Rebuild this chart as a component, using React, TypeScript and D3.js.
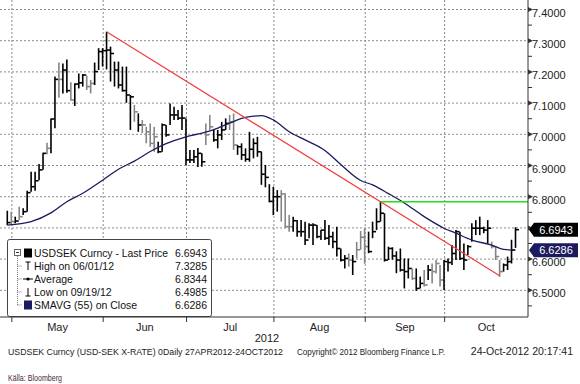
import React from 'react';
import * as d3 from 'd3';

// daily bars 27 Apr 2012 - 24 Oct 2012 (high / low / close)
const highs = [
  6.755, 6.752, 6.736, 6.768, 6.763, 6.819, 6.880, 6.880, 6.905, 6.941,
  6.973, 7.051, 7.185, 7.230, 7.227, 7.240, 7.167, 7.163, 7.195, 7.193,
  7.188, 7.174, 7.230, 7.276, 7.276, 7.3285, 7.281, 7.233, 7.233, 7.217,
  7.217, 7.126, 7.094, 7.067, 7.046, 7.024, 7.035, 7.024, 6.976, 7.035,
  7.030, 7.099, 7.088, 7.078, 7.094, 7.051, 6.950, 6.950, 6.956, 6.939,
  7.035, 7.062, 7.014, 7.014, 7.040, 7.051, 7.062, 7.067, 6.966, 6.971,
  6.955, 7.008, 6.987, 6.992, 6.945, 6.902, 6.840, 6.832, 6.821, 6.821,
  6.811, 6.741, 6.736, 6.725, 6.725, 6.720, 6.715, 6.715, 6.709, 6.693,
  6.725, 6.709, 6.688, 6.704, 6.634, 6.613, 6.618, 6.613, 6.655, 6.690,
  6.699, 6.688, 6.720, 6.763, 6.784, 6.747, 6.640, 6.638, 6.625, 6.634,
  6.602, 6.602, 6.570, 6.570, 6.544, 6.565, 6.581, 6.586, 6.597, 6.581,
  6.597, 6.602, 6.645, 6.693, 6.688, 6.650, 6.645, 6.715, 6.725, 6.736,
  6.704, 6.725, 6.656, 6.640, 6.597, 6.586, 6.608, 6.662, 6.702,
];
const lows = [
  6.709, 6.712, 6.715, 6.725, 6.741, 6.752, 6.816, 6.819, 6.853, 6.886,
  6.936, 6.939, 7.019, 7.117, 7.131, 7.133, 7.108, 7.091, 7.147, 7.153,
  7.142, 7.131, 7.158, 7.206, 7.217, 7.208, 7.169, 7.153, 7.147, 7.137,
  7.101, 7.014, 7.040, 7.008, 7.004, 6.971, 6.960, 6.944, 6.939, 6.944,
  6.992, 7.030, 7.046, 7.046, 7.014, 6.902, 6.908, 6.908, 6.895, 6.896,
  6.966, 7.014, 6.976, 6.955, 6.982, 7.014, 7.014, 6.950, 6.934, 6.918,
  6.912, 6.912, 6.923, 6.928, 6.838, 6.830, 6.782, 6.741, 6.752, 6.720,
  6.699, 6.688, 6.688, 6.672, 6.672, 6.645, 6.667, 6.645, 6.667, 6.661,
  6.661, 6.645, 6.635, 6.608, 6.592, 6.570, 6.576, 6.549, 6.603, 6.630,
  6.585, 6.619, 6.667, 6.693, 6.720, 6.592, 6.597, 6.598, 6.555, 6.560,
  6.506, 6.538, 6.533, 6.4985, 6.506, 6.512, 6.533, 6.522, 6.554, 6.512,
  6.501, 6.560, 6.581, 6.597, 6.597, 6.565, 6.613, 6.656, 6.677, 6.677,
  6.683, 6.650, 6.634, 6.597, 6.543, 6.560, 6.565, 6.586, 6.636,
];
const closes = [
  6.717, 6.720, 6.722, 6.736, 6.752, 6.813, 6.832, 6.851, 6.886, 6.939,
  6.955, 7.049, 7.176, 7.176, 7.206, 7.140, 7.110, 7.161, 7.165, 7.190,
  7.153, 7.163, 7.201, 7.265, 7.268, 7.270, 7.259, 7.206, 7.158, 7.140,
  7.126, 7.120, 7.072, 7.030, 7.030, 7.008, 6.971, 6.992, 6.944, 7.030,
  6.998, 7.062, 7.062, 7.052, 7.052, 6.918, 6.918, 6.928, 6.939, 6.912,
  6.998, 7.024, 6.982, 6.998, 7.014, 7.035, 7.040, 6.966, 6.960, 6.934,
  6.920, 6.952, 6.971, 6.944, 6.872, 6.862, 6.785, 6.800, 6.800, 6.809,
  6.704, 6.704, 6.723, 6.688, 6.688, 6.661, 6.709, 6.709, 6.672, 6.693,
  6.667, 6.672, 6.656, 6.634, 6.597, 6.602, 6.597, 6.592, 6.630, 6.670,
  6.640, 6.624, 6.688, 6.720, 6.747, 6.597, 6.634, 6.610, 6.597, 6.565,
  6.560, 6.570, 6.538, 6.506, 6.522, 6.517, 6.565, 6.560, 6.586, 6.533,
  6.592, 6.589, 6.618, 6.688, 6.602, 6.597, 6.640, 6.699, 6.699, 6.699,
  6.693, 6.699, 6.640, 6.608, 6.560, 6.581, 6.592, 6.629, 6.6943,
];
// bars drawn grey in the original
const greyBars = [1, 3, 10, 13, 16, 20, 21, 32, 34, 35, 36, 37, 50, 51, 56, 57, 69, 70, 71, 86, 88, 89, 90, 102, 105, 107, 108, 109, 122, 123, 124];

// 55 day moving average, read at a few bars
const smaIdx = [0, 6, 11, 15, 19, 24, 28, 32, 36, 40, 45, 49, 52, 56, 59, 62, 64, 67, 71, 75, 80, 84, 89, 92, 96, 100, 105, 110, 113, 117, 122, 125, 128];
const smaVal = [6.709, 6.720, 6.748, 6.784, 6.811, 6.853, 6.888, 6.914, 6.945, 6.970, 6.992, 7.004, 7.015, 7.036, 7.051, 7.058, 7.060, 7.046, 7.008, 6.982, 6.948, 6.903, 6.852, 6.838, 6.810, 6.780, 6.736, 6.699, 6.683, 6.661, 6.645, 6.631, 6.6286];

const trendIdx = [25, 124];
const trendVal = [7.3285, 6.547];
const resistIdx = 94;
const resistVal = 6.784;

const monthNames = ['May', 'Jun', 'Jul', 'Aug', 'Sep', 'Oct'];
const monthStartIdx = [2, 25, 46, 68, 91, 111];
const yTicks = [7.4, 7.3, 7.2, 7.1, 7.0, 6.9, 6.8, 6.7, 6.6, 6.5];

const legendLabels = ['USDSEK Curncy - Last Price', 'High on 06/01/12', 'Average', 'Low on 09/19/12', 'SMAVG (55) on Close'];
const legendValues = ['6.6943', '7.3285', '6.8344', '6.4985', '6.6286'];
const lastPrice = 6.6943;
const lastSma = 6.6286;

const FONT = 'Liberation Sans, Arial, sans-serif';
const NAVY = '#1b1b5e';

const App = () => {
  const plotRight = 528;
  const plotBottom = 317;
  const x = d3.scaleLinear().domain([0, 128]).range([7.3, 515.5]);
  const y = d3.scaleLinear().domain([6.5, 7.4]).range([290.3, 9.5]);

  const gridX = monthStartIdx.map((i) => x(i - 0.85));
  const labelX = gridX.map((g, k) => (g + (k < gridX.length - 1 ? gridX[k + 1] : plotRight)) / 2);

  const smaLine = d3
    .line<number>()
    .x((d, k) => x(smaIdx[k]))
    .y((d) => y(d))
    .curve(d3.curveMonotoneX);

  const minorTicks = d3.range(6.45, 7.4, 0.1);
  // the last price box hides the tick label it sits on
  const shownTicks = yTicks.filter((t) => Math.abs(y(t) - y(lastPrice)) > 8);

  const marker = (v: number, fill: string, label: string) => {
    const yy = y(v);
    return (
      <g>
        <polygon
          points={`529,${yy} 534,${yy - 7} 578,${yy - 7} 578,${yy + 7} 534,${yy + 7}`}
          fill={fill}
        />
        <text x={556} y={yy + 4} fill="#fff" fontSize={11} textAnchor="middle" fontFamily={FONT}>
          {label}
        </text>
      </g>
    );
  };

  const rowY = (k: number) => 253 + k * 13;

  return (
    <svg width={580} height={384} style={{ position: 'absolute', left: 0, top: 0, background: '#fff' }}>
      <rect width={580} height={384} fill="#fff" />

      {/* grid */}
      <g stroke="#8a8a8a" strokeWidth={1} strokeDasharray="2,2">
        {yTicks.map((t) => (
          <line key={t} x1={0} x2={plotRight} y1={y(t)} y2={y(t)} />
        ))}
        {gridX.map((g, k) => (
          <line key={k} x1={g} x2={g} y1={0} y2={plotBottom} />
        ))}
      </g>

      {/* bars */}
      <g strokeWidth={1.6}>
        {closes.map((c, i) => {
          const col = greyBars.includes(i) ? '#858585' : '#000';
          return (
            <g key={i} stroke={col}>
              <line x1={x(i)} x2={x(i)} y1={y(highs[i])} y2={y(lows[i])} />
              <line x1={x(i)} x2={x(i) + 3.5} y1={y(c)} y2={y(c)} />
            </g>
          );
        })}
      </g>

      {/* studies */}
      <path d={smaLine(smaVal) || ''} fill="none" stroke={NAVY} strokeWidth={1.3} />
      <line
        x1={x(trendIdx[0])}
        y1={y(trendVal[0])}
        x2={x(trendIdx[1])}
        y2={y(trendVal[1])}
        stroke="#f23c3c"
        strokeWidth={1.2}
      />
      <line x1={x(resistIdx)} x2={plotRight} y1={y(resistVal)} y2={y(resistVal)} stroke="#22dd22" strokeWidth={1.5} />

      {/* right axis */}
      <line x1={plotRight} x2={plotRight} y1={0} y2={plotBottom} stroke="#333" />
      {minorTicks.map((t) => (
        <line key={t} x1={plotRight} x2={plotRight + 4} y1={y(t)} y2={y(t)} stroke="#333" />
      ))}
      {yTicks.map((t) => (
        <polygon
          key={t}
          points={`${plotRight},${y(t) - 2.5} ${plotRight + 5},${y(t)} ${plotRight},${y(t) + 2.5}`}
          fill="#333"
        />
      ))}
      {shownTicks.map((t) => (
        <text key={t} x={532} y={y(t) + 7} fontSize={11} fontFamily={FONT} fill="#222">
          {t.toFixed(4)}
        </text>
      ))}
      {marker(lastPrice, '#000', lastPrice.toFixed(4))}
      {marker(lastSma, NAVY, lastSma.toFixed(4))}

      {/* legend */}
      <rect x={7.5} y={239.5} width={204} height={77} rx={2} fill="#fff" stroke="#444" />
      <rect x={14.5} y={249.5} width={6} height={6} fill="#fff" stroke="#666" />
      <line x1={16} x2={19} y1={252.5} y2={252.5} stroke="#333" />
      <path
        d={`M17.5,256 V${rowY(4)} ${[1, 2, 3, 4].map((k) => `M17.5,${rowY(k)} H22`).join(' ')}`}
        stroke="#777"
        strokeDasharray="1,1"
        fill="none"
      />
      <rect x={24} y={rowY(0) - 4.5} width={8} height={9} fill="#000" />
      <path d={`M25.5,${rowY(1) - 4} H30.5 M28,${rowY(1) - 4} V${rowY(1) + 4}`} stroke="#000" strokeWidth={1} fill="none" />
      <path d={`M23,${rowY(2)} H33`} stroke="#000" />
      <circle cx={28} cy={rowY(2)} r={1.6} fill="#000" />
      <path d={`M25.5,${rowY(3) + 4} H30.5 M28,${rowY(3) + 4} V${rowY(3) - 4}`} stroke="#000" strokeWidth={1} fill="none" />
      <rect x={24} y={rowY(4) - 4.5} width={8} height={9} fill={NAVY} />
      {legendLabels.map((l, k) => (
        <g key={l} fontFamily={FONT} fontSize={10.5} fill="#111">
          <text x={34} y={rowY(k) + 4} textLength={k === 0 ? 134 : undefined} lengthAdjust="spacingAndGlyphs">
            {l}
          </text>
          <text x={207} y={rowY(k) + 4} textAnchor="end">
            {legendValues[k]}
          </text>
        </g>
      ))}

      {/* bottom axis */}
      <line x1={0} x2={plotRight} y1={plotBottom} y2={plotBottom} stroke="#333" />
      {gridX.map((g, k) => (
        <line key={k} x1={g} x2={g} y1={plotBottom} y2={plotBottom + 5} stroke="#333" />
      ))}
      {monthNames.map((m, k) => (
        <text key={m} x={labelX[k]} y={331} textAnchor="middle" fontSize={11} fontFamily={FONT} fill="#222">
          {m}
        </text>
      ))}
      <text x={267} y={342} textAnchor="middle" fontSize={11} fontFamily={FONT} fill="#222">
        2012
      </text>

      {/* footer */}
      <g fontFamily={FONT} fill="#222">
        <text x={8} y={355} fontSize={9} textLength={275} lengthAdjust="spacingAndGlyphs">
          USDSEK Curncy (USD-SEK X-RATE) 0Daily 27APR2012-24OCT2012
        </text>
        <text x={297} y={355} fontSize={9} textLength={148} lengthAdjust="spacingAndGlyphs">
          Copyright© 2012 Bloomberg Finance L.P.
        </text>
        <text x={573} y={355} fontSize={10.5} textAnchor="end">
          24-Oct-2012 20:17:41
        </text>
      </g>
      <text x={8} y={381} fontSize={9} fontFamily={FONT} fill="#4a1f3c" textLength={54} lengthAdjust="spacingAndGlyphs">
        Källa: Bloomberg
      </text>
    </svg>
  );
};

export default App;
